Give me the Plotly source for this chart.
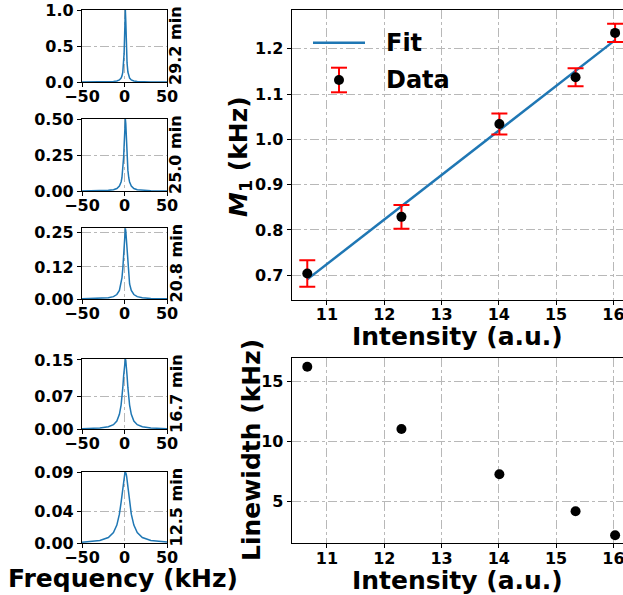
import plotly.graph_objects as go

# ---------------- data ----------------
freq_khz = [-50, -29, -19, -13, -9, -6, -4, -3, -2, -1, -0.5, 0, 0.5, 1, 1.5, 2, 2.5, 3, 4, 5, 6, 8, 11, 15, 21, 31, 50]
spec_29_2 = [0.0006, 0.0016, 0.0036, 0.0073, 0.0142, 0.0285, 0.0545, 0.0826, 0.138, 0.265, 0.390, 0.590, 0.852, 1.0,
             0.852, 0.590, 0.390, 0.265, 0.138, 0.0826, 0.0545, 0.0285, 0.0142, 0.0073, 0.0036, 0.0016, 0.0006]
spec_25_0 = [0.0007, 0.0020, 0.0045, 0.0090, 0.0174, 0.0343, 0.0631, 0.0920, 0.1431, 0.2372, 0.308, 0.3915, 0.4676, 0.5,
             0.4676, 0.3915, 0.308, 0.2372, 0.1431, 0.0920, 0.0631, 0.0343, 0.0174, 0.0090, 0.0045, 0.0020, 0.0008]
spec_20_8 = [0.0007, 0.0020, 0.0044, 0.0088, 0.0168, 0.0321, 0.0564, 0.0787, 0.1137, 0.1665, 0.1988, 0.2309, 0.2556, 0.265,
             0.2556, 0.2309, 0.1988, 0.1665, 0.1137, 0.0787, 0.0564, 0.0321, 0.0168, 0.0088, 0.0044, 0.0020, 0.0007]
spec_16_7 = [0.0008, 0.0022, 0.0048, 0.0094, 0.0174, 0.0318, 0.0519, 0.0680, 0.0897, 0.1162, 0.1295, 0.1411, 0.1491, 0.152,
             0.1491, 0.1411, 0.1295, 0.1162, 0.0897, 0.0680, 0.0519, 0.0318, 0.0174, 0.0094, 0.0048, 0.0022, 0.0008]
spec_12_5 = [0.0011, 0.0032, 0.0070, 0.0132, 0.0227, 0.0366, 0.0516, 0.0610, 0.0710, 0.0804, 0.0844, 0.0874, 0.0893, 0.09,
             0.0893, 0.0874, 0.0844, 0.0804, 0.0710, 0.0610, 0.0516, 0.0366, 0.0227, 0.0132, 0.0070, 0.0032, 0.0012]
spectra = [spec_29_2, spec_25_0, spec_20_8, spec_16_7, spec_12_5]
time_labels = ["29.2 min", "25.0 min", "20.8 min", "16.7 min", "12.5 min"]
spec_ymax = [1.0, 0.5, 0.266, 0.152, 0.09]
spec_ytickvals = [[0, 0.5, 1.0], [0, 0.25, 0.5], [0, 0.12, 0.25], [0, 0.07, 0.15], [0, 0.04, 0.09]]
spec_yticktext = [["0.0", "0.5", "1.0"], ["0.00", "0.25", "0.50"], ["0.00", "0.12", "0.25"],
                  ["0.00", "0.07", "0.15"], ["0.00", "0.04", "0.09"]]
freq_tickvals = [-50, 0, 50]
freq_ticktext = ["\u221250", "0", "50"]

intensity = [10.656, 12.30, 14.01, 15.34, 16.03]
m1_khz = [0.704, 0.829, 1.034, 1.137, 1.235]
m1_err = [0.029, 0.026, 0.023, 0.020, 0.020]
fit_x = [10.656, 16.03]
fit_y = [0.691, 1.219]
linewidth_khz = [16.25, 11.06, 7.28, 4.20, 2.20]
int_tickvals = [11, 12, 13, 14, 15, 16]
m1_tickvals = [0.7, 0.8, 0.9, 1.0, 1.1, 1.2]
lw_tickvals = [5, 10, 15]

# ---------------- layout helpers ----------------
W, H = 623, 595
def px_x(x):
    return x / W
def px_y(y):
    return 1 - y / H

FONT = "DejaVu Sans"
tickfont = dict(family=FONT, size=16, color="black", weight="bold")
GRID = "#b8b8b8"

fig = go.Figure()
layout = dict(
    width=W, height=H,
    margin=dict(l=0, r=0, t=0, b=0, autoexpand=False),
    paper_bgcolor="white", plot_bgcolor="white",
    showlegend=False,
    font=dict(family=FONT, color="black"),
)

common_axis = dict(
    showline=True, linecolor="black", linewidth=1.2,
    ticks="outside", ticklen=4, tickwidth=1, tickcolor="black",
    showgrid=True, gridcolor=GRID, gridwidth=1, griddash="dashdot",
    zeroline=False, tickfont=tickfont, automargin=False,
    ticklabeloverflow="allow",
)
x_axis_extra = dict(ticklabelstandoff=-4)

panel_px = [(10, 82), (119, 191), (228, 299), (359, 429), (472, 543)]
annotations = []
for i, (spec, (top, bot)) in enumerate(zip(spectra, panel_px)):
    n = i + 1
    xa = "x" if n == 1 else f"x{n}"
    ya = "y" if n == 1 else f"y{n}"
    fig.add_trace(go.Scatter(x=freq_khz, y=spec, mode="lines",
                             line=dict(color="#1f77b4", width=1.5),
                             xaxis=xa, yaxis=ya, hoverinfo="skip"))
    xkey = "xaxis" if n == 1 else f"xaxis{n}"
    ykey = "yaxis" if n == 1 else f"yaxis{n}"
    layout[xkey] = dict(common_axis, **x_axis_extra, domain=[px_x(82), px_x(167)], anchor=ya,
                        range=[-50, 50], tickvals=freq_tickvals, ticktext=freq_ticktext,
                        mirror=True)
    layout[ykey] = dict(common_axis, domain=[px_y(bot), px_y(top)], anchor=xa,
                        range=[0, spec_ymax[i]], tickvals=spec_ytickvals[i],
                        ticktext=spec_yticktext[i], mirror=True)
    annotations.append(dict(text=time_labels[i], xref="paper", yref="paper",
                            x=px_x(176), y=px_y((top + bot) / 2), textangle=-90,
                            showarrow=False, xanchor="center", yanchor="middle",
                            font=dict(family=FONT, size=16, color="black", weight="bold")))

# M1 vs intensity
fig.add_trace(go.Scatter(x=fit_x, y=fit_y, mode="lines", name="Fit",
                         line=dict(color="#1f77b4", width=2.5),
                         xaxis="x6", yaxis="y6"))
fig.add_trace(go.Scatter(x=intensity, y=m1_khz, mode="markers", name="Data",
                         marker=dict(color="black", size=10),
                         error_y=dict(type="data", array=m1_err, color="red", thickness=2, width=8),
                         xaxis="x6", yaxis="y6", cliponaxis=False))
layout["xaxis6"] = dict(common_axis, **x_axis_extra, domain=[px_x(291.7), 1.0], anchor="y6",
                        range=[10.384, 16.168], tickvals=int_tickvals, mirror=True)
layout["yaxis6"] = dict(common_axis, domain=[px_y(300), px_y(10)], anchor="x6",
                        range=[0.6455, 1.2855], tickvals=m1_tickvals, tickformat=".1f")

# Linewidth vs intensity
fig.add_trace(go.Scatter(x=intensity, y=linewidth_khz, mode="markers",
                         marker=dict(color="black", size=10),
                         xaxis="x7", yaxis="y7", cliponaxis=False))
layout["xaxis7"] = dict(common_axis, **x_axis_extra, domain=[px_x(291.7), 1.0], anchor="y7",
                        range=[10.384, 16.168], tickvals=int_tickvals, mirror=True)
layout["yaxis7"] = dict(common_axis, domain=[px_y(543.3), px_y(358.3)], anchor="x7",
                        range=[1.53, 16.95], tickvals=lw_tickvals)

title_font = dict(family=FONT, size=25, color="black", weight="bold")
annotations += [
    dict(text="Frequency (kHz)", xref="paper", yref="paper", x=px_x(123), y=px_y(578),
         showarrow=False, xanchor="center", yanchor="middle", font=title_font),
    dict(text="Intensity (a.u.)", xref="paper", yref="paper", x=px_x(457), y=px_y(336),
         showarrow=False, xanchor="center", yanchor="middle", font=title_font),
    dict(text="Intensity (a.u.)", xref="paper", yref="paper", x=px_x(457), y=px_y(580),
         showarrow=False, xanchor="center", yanchor="middle", font=title_font),
    dict(text="<i>M</i><sub>1</sub> (kHz)", xref="paper", yref="paper", x=px_x(240), y=px_y(157),
         showarrow=False, xanchor="center", yanchor="middle", textangle=-90, font=title_font),
    dict(text="Linewidth (kHz)", xref="paper", yref="paper", x=px_x(251), y=px_y(450),
         showarrow=False, xanchor="center", yanchor="middle", textangle=-90, font=title_font),
    # legend texts
    dict(text="Fit", xref="paper", yref="paper", x=px_x(384), y=px_y(43),
         showarrow=False, xanchor="left", yanchor="middle",
         font=dict(family=FONT, size=24, color="black", weight="bold")),
    dict(text="Data", xref="paper", yref="paper", x=px_x(384), y=px_y(80),
         showarrow=False, xanchor="left", yanchor="middle",
         font=dict(family=FONT, size=24, color="black", weight="bold")),
]

# legend glyphs (paper coordinates)
shapes = [
    dict(type="line", xref="paper", yref="paper", x0=px_x(313), x1=px_x(365),
         y0=px_y(42.7), y1=px_y(42.7), line=dict(color="#1f77b4", width=2.5)),
    dict(type="line", xref="paper", yref="paper", x0=px_x(339), x1=px_x(339),
         y0=px_y(67.7), y1=px_y(92.3), line=dict(color="red", width=2)),
    dict(type="line", xref="paper", yref="paper", x0=px_x(331), x1=px_x(347),
         y0=px_y(67.7), y1=px_y(67.7), line=dict(color="red", width=2)),
    dict(type="line", xref="paper", yref="paper", x0=px_x(331), x1=px_x(347),
         y0=px_y(92.3), y1=px_y(92.3), line=dict(color="red", width=2)),
    dict(type="circle", xref="paper", yref="paper", x0=px_x(334), x1=px_x(344),
         y0=px_y(85), y1=px_y(75), fillcolor="black", line=dict(color="black", width=0)),
]

layout["annotations"] = annotations
layout["shapes"] = shapes
fig.update_layout(**layout)
# remove the browser's default 8px body margin so the figure fills the window
fig.write_html("out.html",
               config={"displayModeBar": False},
               post_script="document.body.style.margin='0';document.body.style.overflow='hidden';")
